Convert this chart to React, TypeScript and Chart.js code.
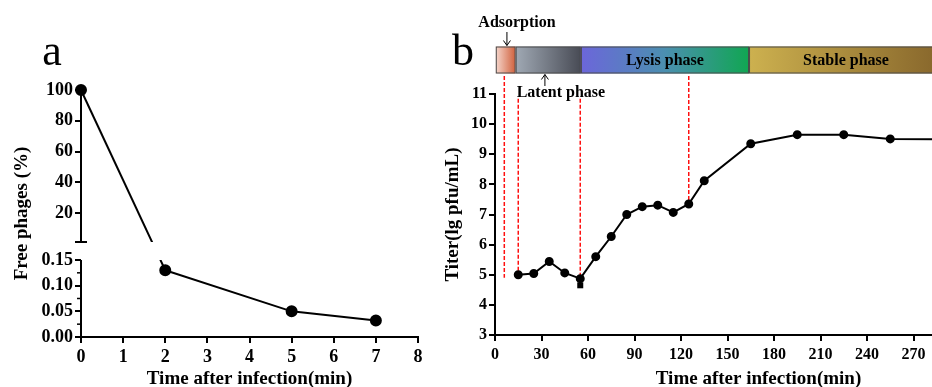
import React, { useEffect, useRef } from "react";
import { Chart, registerables } from "chart.js";

Chart.register(...registerables);

const FONT = "'Liberation Serif', 'Times New Roman', serif";

// ---------- Panel a data ----------
const aTimes = [0, 2, 5, 7];
const aFree = [100, 0.13, 0.05, 0.032];
const aUpperTicks = [20, 40, 60, 80, 100];
const aLowerTicks = [0, 0.05, 0.1, 0.15];
const aLowerMinorTicks = [0.025, 0.075, 0.125];
const aUpperSegment = [1.2, 100];
const aLowerSegment = [0, 0.15];

// ---------- Panel b data ----------
const bTimes = [15, 25, 35, 45, 55, 65, 75, 85, 95, 105, 115, 125, 135, 165, 195, 225, 255, 285];
const bTiter = [5.0, 5.04, 5.44, 5.06, 4.87, 5.6, 6.27, 7.0, 7.26, 7.31, 7.07, 7.35, 8.12, 9.35, 9.65, 9.65, 9.51, 9.5];
const bErrLow = [0, 0, 0, 0, 0.22, 0, 0, 0, 0, 0, 0, 0, 0, 0, 0, 0, 0, 0];
const phaseNames = ["", "", "Lysis phase", "Stable phase"];
const phaseEdges = [0.5, 13.3, 55.4, 163.9, 289];
const phaseColors = [
  ["#f5d6cc", "#d0603c"],
  ["#a0a9b4", "#484b55"],
  ["#6c66da", "#4b8fb0", "#10a652"],
  ["#cdb14f", "#86652b"],
];
const markerTimes = [6, 15, 55, 125];
const markerTop = [11.6, 10.84, 10.84, 11.6];
const markerBottom = [4.9, 5.0, 4.87, 7.35];
const calloutLabels = ["Adsorption", "Latent phase"];
const calloutArrowTimes = [7.7, 32.2];
const calloutLabelTimes = [14.2, 42.5];

const tickFontA = { family: FONT, size: 18, weight: "bold" as const };
const tickFontB = { family: FONT, size: 16, weight: "bold" as const };
const titleFont = { family: FONT, size: 19, weight: "bold" as const };

function drawArrow(ctx: CanvasRenderingContext2D, x: number, yFrom: number, yTo: number) {
  const dir = yTo > yFrom ? 1 : -1;
  ctx.beginPath();
  ctx.moveTo(x, yFrom);
  ctx.lineTo(x, yTo);
  ctx.moveTo(x - 3.5, yTo - dir * 5);
  ctx.lineTo(x, yTo);
  ctx.lineTo(x + 3.5, yTo - dir * 5);
  ctx.stroke();
}

function PanelA() {
  const ref = useRef<HTMLCanvasElement>(null);
  useEffect(() => {
    const upperPts: { x: number; y: number }[] = [];
    const lowerPts: { x: number; y: number }[] = [];
    aTimes.forEach((t, i) => (aFree[i] > aLowerSegment[1] ? upperPts : lowerPts).push({ x: t, y: aFree[i] }));

    const plugin = {
      id: "aDecor",
      beforeDatasetsDraw(chart: any) {
        const { ctx, scales, chartArea } = chart;
        const xs = scales.x, yu = scales.yUp, yl = scales.yLow;
        const ax = chartArea.left;
        ctx.save();
        ctx.strokeStyle = "#000";
        ctx.lineWidth = 2;
        const uTop = yu.getPixelForValue(aUpperSegment[1]);
        const uBot = yu.getPixelForValue(aUpperSegment[0]);
        ctx.beginPath();
        ctx.moveTo(ax, uTop - 1);
        ctx.lineTo(ax, uBot);
        ctx.moveTo(ax - 6, uBot);
        ctx.lineTo(ax + 6, uBot);
        ctx.stroke();
        const lTop = yl.getPixelForValue(aLowerSegment[1]);
        const lBot = yl.getPixelForValue(aLowerSegment[0]);
        ctx.beginPath();
        ctx.moveTo(ax, lTop);
        ctx.lineTo(ax, lBot + 1);
        ctx.stroke();
        ctx.lineWidth = 1.5;
        aLowerMinorTicks.forEach((v) => {
          const y = yl.getPixelForValue(v);
          ctx.beginPath();
          ctx.moveTo(ax - 4, y);
          ctx.lineTo(ax, y);
          ctx.stroke();
        });
        // connector across the axis break
        ctx.lineWidth = 2;
        for (let i = 0; i < aTimes.length - 1; i++) {
          const up0 = aFree[i] > aLowerSegment[1];
          const up1 = aFree[i + 1] > aLowerSegment[1];
          if (up0 === up1) continue;
          const x0 = xs.getPixelForValue(aTimes[i]);
          const y0 = (up0 ? yu : yl).getPixelForValue(aFree[i]);
          const x1 = xs.getPixelForValue(aTimes[i + 1]);
          const y1 = (up1 ? yu : yl).getPixelForValue(aFree[i + 1]);
          const rects = [
            [chartArea.left - 10, 0, chartArea.width + 20, uBot],
            [chartArea.left - 10, lTop, chartArea.width + 20, chartArea.bottom - lTop],
          ];
          rects.forEach((r) => {
            ctx.save();
            ctx.beginPath();
            ctx.rect(r[0], r[1], r[2], r[3]);
            ctx.clip();
            ctx.beginPath();
            ctx.moveTo(x0, y0);
            ctx.lineTo(x1, y1);
            ctx.stroke();
            ctx.restore();
          });
        }
        ctx.restore();
      },
      afterDraw(chart: any) {
        const { ctx, chartArea } = chart;
        ctx.save();
        ctx.fillStyle = "#000";
        ctx.font = `bold ${titleFont.size}px ${FONT}`;
        ctx.textAlign = "center";
        ctx.textBaseline = "middle";
        ctx.translate(22, (chartArea.top + chartArea.bottom) / 2);
        ctx.rotate(-Math.PI / 2);
        ctx.fillText("Free phages (%)", 0, 0);
        ctx.restore();
        ctx.save();
        ctx.fillStyle = "#000";
        ctx.font = `44px ${FONT}`;
        ctx.textAlign = "center";
        ctx.textBaseline = "alphabetic";
        ctx.fillText("a", 52, 65);
        ctx.restore();
      },
    };

    const chart = new Chart(ref.current!, {
      type: "line",
      data: {
        datasets: [
          { data: upperPts, yAxisID: "yUp", borderColor: "#000", backgroundColor: "#000", borderWidth: 2, pointRadius: 5, pointBackgroundColor: "#000", clip: false as any },
          { data: lowerPts, yAxisID: "yLow", borderColor: "#000", backgroundColor: "#000", borderWidth: 2, pointRadius: 5, pointBackgroundColor: "#000", clip: false as any },
        ],
      },
      options: {
        responsive: false,
        animation: false,
        layout: { padding: { top: 90, left: 0, right: 22, bottom: 0 } },
        plugins: { legend: { display: false }, tooltip: { enabled: false } },
        scales: {
          x: {
            type: "linear",
            min: 0,
            max: 8,
            ticks: { stepSize: 1, autoSkip: false, font: tickFontA, color: "#000", padding: 4 },
            grid: { drawOnChartArea: false, tickLength: 6, lineWidth: 2, color: "#000" },
            border: { display: true, color: "#000", width: 2 },
            title: { display: true, text: "Time after infection(min)", font: titleFont, color: "#000", padding: { top: 0, bottom: 10 } },
            afterFit: (s: any) => { s.height = 63; },
          },
          yUp: {
            type: "linear",
            position: "left",
            stack: "a",
            stackWeight: 161,
            weight: 2,
            min: -4.7,
            max: 100,
            afterBuildTicks: (s: any) => { s.ticks = aUpperTicks.map((v) => ({ value: v })); },
            ticks: { autoSkip: false, font: tickFontA, color: "#000", padding: 2, callback: (v: any) => String(v) },
            grid: { drawOnChartArea: false, tickLength: 6, lineWidth: 2, color: "#000" },
            border: { display: false },
            afterFit: (s: any) => { s.width = 81; },
          },
          yLow: {
            type: "linear",
            position: "left",
            stack: "a",
            stackWeight: 86,
            weight: 1,
            min: 0,
            max: 0.1675,
            afterBuildTicks: (s: any) => { s.ticks = aLowerTicks.map((v) => ({ value: v })); },
            ticks: { autoSkip: false, font: tickFontA, color: "#000", padding: 2, callback: (v: any) => Number(v).toFixed(2) },
            grid: { drawOnChartArea: false, tickLength: 6, lineWidth: 2, color: "#000" },
            border: { display: false },
            afterFit: (s: any) => { s.width = 81; },
          },
        } as any,
      },
      plugins: [plugin],
    });
    return () => chart.destroy();
  }, []);
  return <canvas ref={ref} width={440} height={400} style={{ position: "absolute", left: 0, top: 0 }} />;
}

function PanelB() {
  const ref = useRef<HTMLCanvasElement>(null);
  useEffect(() => {
    const plugin = {
      id: "bDecor",
      beforeDatasetsDraw(chart: any) {
        const { ctx, scales } = chart;
        const xs = scales.x, ys = scales.y;
        ctx.save();
        ctx.strokeStyle = "#ff1010";
        ctx.lineWidth = 1.5;
        ctx.setLineDash([4, 2]);
        markerTimes.forEach((t, i) => {
          const x = xs.getPixelForValue(t);
          ctx.beginPath();
          ctx.moveTo(x, ys.getPixelForValue(markerTop[i]));
          ctx.lineTo(x, ys.getPixelForValue(markerBottom[i]));
          ctx.stroke();
        });
        ctx.setLineDash([]);
        ctx.strokeStyle = "#000";
        ctx.fillStyle = "#000";
        ctx.lineWidth = 2;
        bTimes.forEach((t, i) => {
          if (!bErrLow[i]) return;
          const x = xs.getPixelForValue(t);
          const y1 = ys.getPixelForValue(bTiter[i]);
          const y2 = ys.getPixelForValue(bTiter[i] - bErrLow[i]);
          ctx.beginPath();
          ctx.moveTo(x, y1);
          ctx.lineTo(x, y2);
          ctx.stroke();
          ctx.fillRect(x - 3, y2 - 3, 6, 6);
        });
        ctx.restore();
      },
      afterDraw(chart: any) {
        const { ctx, scales, chartArea } = chart;
        const xs = scales.x;
        const barTop = chartArea.top - 47.5;
        const barH = 27;
        ctx.save();
        for (let i = 0; i < phaseNames.length; i++) {
          const x0 = xs.getPixelForValue(phaseEdges[i]);
          const x1 = xs.getPixelForValue(phaseEdges[i + 1]);
          const g = ctx.createLinearGradient(x0, 0, x1, 0);
          const cols = phaseColors[i];
          cols.forEach((c, k) => g.addColorStop(k / (cols.length - 1), c));
          ctx.fillStyle = g;
          ctx.fillRect(x0, barTop, x1 - x0, barH);
          ctx.strokeStyle = "#4a4a4a";
          ctx.lineWidth = 1;
          ctx.strokeRect(x0 + 0.5, barTop + 0.5, x1 - x0 - 1, barH - 1);
          if (phaseNames[i]) {
            ctx.fillStyle = "#000";
            ctx.font = `bold 16px ${FONT}`;
            ctx.textAlign = "center";
            ctx.textBaseline = "middle";
            ctx.fillText(phaseNames[i], (x0 + x1) / 2, barTop + barH / 2 + 1);
          }
        }
        // callouts
        ctx.fillStyle = "#000";
        ctx.strokeStyle = "#000";
        ctx.lineWidth = 1;
        ctx.font = `bold 16px ${FONT}`;
        ctx.textAlign = "center";
        ctx.textBaseline = "alphabetic";
        ctx.fillText(calloutLabels[0], xs.getPixelForValue(calloutLabelTimes[0]), 27);
        drawArrow(ctx, xs.getPixelForValue(calloutArrowTimes[0]), 32, barTop - 1);
        ctx.fillText(calloutLabels[1], xs.getPixelForValue(calloutLabelTimes[1]), 97);
        drawArrow(ctx, xs.getPixelForValue(calloutArrowTimes[1]), 86, barTop + barH + 1);
        // panel letter
        ctx.font = `44px ${FONT}`;
        ctx.fillText("b", 23, 65);
        ctx.restore();
      },
    };

    const chart = new Chart(ref.current!, {
      type: "line",
      data: {
        datasets: [
          {
            data: bTimes.map((t, i) => ({ x: t, y: bTiter[i] })),
            borderColor: "#000",
            backgroundColor: "#000",
            borderWidth: 2,
            pointRadius: 3.5,
            pointBackgroundColor: "#000",
          },
        ],
      },
      options: {
        responsive: false,
        animation: false,
        layout: { padding: { top: 94, left: 2, right: 18, bottom: 0 } },
        plugins: { legend: { display: false }, tooltip: { enabled: false } },
        scales: {
          x: {
            type: "linear",
            min: 0,
            max: 340,
            ticks: { stepSize: 30, autoSkip: false, font: tickFontB, color: "#000", padding: 4 },
            grid: { drawOnChartArea: false, tickLength: 6, lineWidth: 2, color: "#000" },
            border: { display: true, color: "#000", width: 2 },
            title: { display: true, text: "Time after infection(min)", font: titleFont, color: "#000", padding: { top: 0, bottom: 10 } },
            afterFit: (s: any) => { s.height = 65; },
          },
          y: {
            type: "linear",
            min: 3,
            max: 11,
            ticks: { stepSize: 1, autoSkip: false, font: tickFontB, color: "#000", padding: 2 },
            grid: { drawOnChartArea: false, tickLength: 6, lineWidth: 2, color: "#000" },
            border: { display: true, color: "#000", width: 2 },
            title: { display: true, text: "Titer(lg pfu/mL)", font: titleFont, color: "#000", padding: { top: 0, bottom: 0 } },
            afterFit: (s: any) => { s.width = 53; },
          },
        } as any,
      },
      plugins: [plugin],
    });
    return () => chart.destroy();
  }, []);
  return <canvas ref={ref} width={600} height={400} style={{ position: "absolute", left: 440, top: 0 }} />;
}

export default function App() {
  return (
    <div style={{ position: "fixed", left: 0, top: 0, width: 932, height: 387, overflow: "hidden", background: "#fff" }}>
      <PanelA />
      <PanelB />
    </div>
  );
}
